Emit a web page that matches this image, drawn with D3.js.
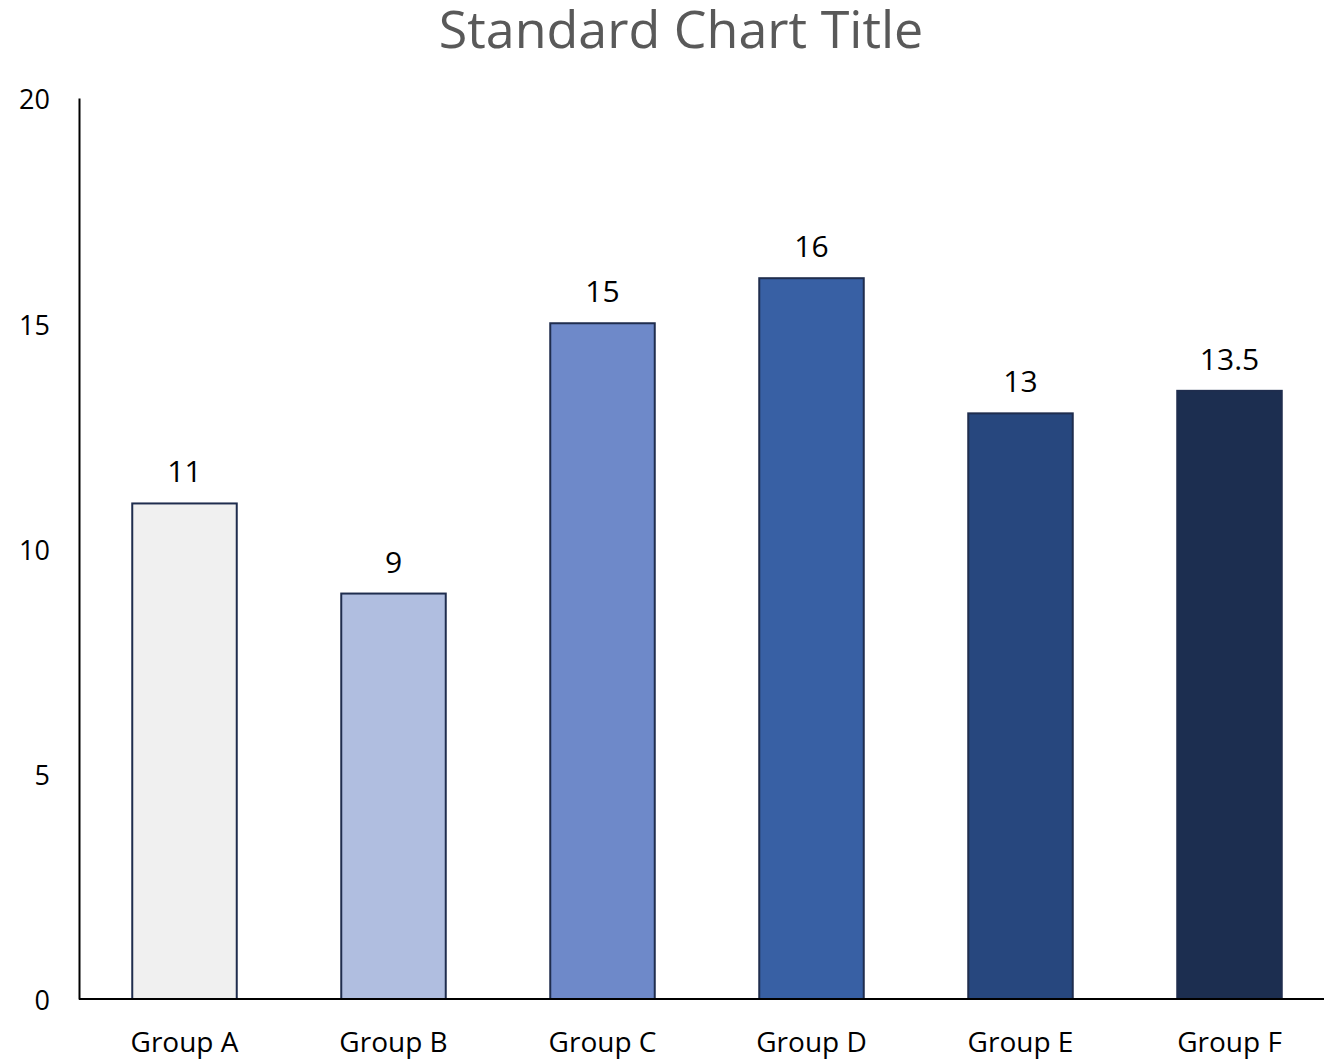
<!DOCTYPE html>
<html>
<head>
<meta charset="utf-8">
<script src="https://cdn.jsdelivr.net/npm/d3@7"></script>
<style>
  body { margin: 0; background: #fff; }
  svg text { font-family: "Open Sans", sans-serif; }
</style>
</head>
<body>
<div id="chart"></div>
<script>
var groups = ['Group A', 'Group B', 'Group C', 'Group D', 'Group E', 'Group F'];
var values = [11, 9, 15, 16, 13, 13.5];
var barColors = ['#f0f0f0', '#b0bee0', '#6e89c9', '#3860a4', '#27477e', '#1c2e50'];
var yTicks = [0, 5, 10, 15, 20];

var width = 1324,
    height = 1061,
    margin = { top: 98, right: 0, bottom: 62, left: 79 };

var svg = d3.select('#chart').append('svg')
    .attr('width', width)
    .attr('height', height);

var yScale = d3.scaleLinear()
    .domain([0, 20])
    .range([height - margin.bottom, margin.top]);

var xScale = d3.scaleBand()
    .domain(groups)
    .range([margin.left + 1, margin.left + 1 + 6 * 209])
    .paddingInner(0.5)
    .paddingOuter(0.25);

// title
svg.append('text')
    .attr('x', 681)
    .attr('y', 48)
    .attr('text-anchor', 'middle')
    .style('font-size', '52px')
    .style('fill', '#595959')
    .text('Standard Chart Title');

// bars
svg.selectAll('rect.bar').data(values)
    .enter().append('rect')
    .attr('class', 'bar')
    .attr('x', function(d, i) { return xScale(groups[i]); })
    .attr('width', xScale.bandwidth())
    .attr('y', function(d) { return yScale(d); })
    .attr('height', function(d) { return yScale(0) - yScale(d); })
    .style('fill', function(d, i) { return barColors[i]; })
    .style('stroke', '#1f2d4e')
    .style('stroke-width', 2);

// value labels
svg.selectAll('text.val').data(values)
    .enter().append('text')
    .attr('class', 'val')
    .attr('x', function(d, i) { return xScale(groups[i]) + xScale.bandwidth() / 2; })
    .attr('y', function(d) { return yScale(d) - 21; })
    .attr('text-anchor', 'middle')
    .style('font-size', '30px')
    .style('fill', '#000')
    .text(function(d) { return d; });

// y axis
var yAxis = d3.axisLeft(yScale)
    .tickValues(yTicks)
    .tickSize(0)
    .tickPadding(29);

var yGuide = svg.append('g')
    .attr('transform', 'translate(' + margin.left + ',0)')
    .call(yAxis);
yGuide.select('.domain').attr('stroke', '#000').attr('stroke-width', 2);
yGuide.selectAll('text')
    .attr('dy', '0.4em')
    .style('font-size', '27px')
    .style('fill', '#000')
    .attr('font-family', null);

// x axis
var xAxis = d3.axisBottom(xScale)
    .tickSize(0)
    .tickPadding(33);

var xGuide = svg.append('g')
    .attr('transform', 'translate(0,' + yScale(0) + ')')
    .call(xAxis);
xGuide.select('.domain').remove();
xGuide.append('line')
    .attr('x1', margin.left)
    .attr('x2', width)
    .attr('stroke', '#000')
    .attr('stroke-width', 2);
xGuide.selectAll('text')
    .style('font-size', '28px')
    .style('fill', '#000')
    .attr('font-family', null);
</script>
</body>
</html>
